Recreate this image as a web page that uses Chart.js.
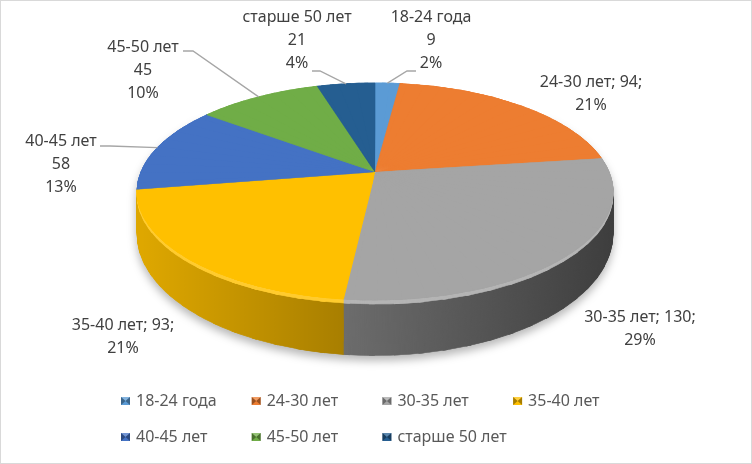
<!DOCTYPE html>
<html lang="ru">
<head>
    <meta charset="utf-8">
    <title>Возраст</title>
    <script src="https://cdn.jsdelivr.net/npm/chart.js@4"></script>
    <style>
        html, body { margin: 0; padding: 0; background: #fff; }
        #wrap { width: 752px; height: 464px; }
    </style>
</head>
<body>
    <div id="wrap"><canvas id="ageChart" width="752" height="464"></canvas></div>

    <script>
        const categories = ['18-24 года', '24-30 лет', '30-35 лет', '35-40 лет', '40-45 лет', '45-50 лет', 'старше 50 лет'];
        const counts = [9, 94, 130, 93, 58, 45, 21];
        const sliceColors = ['#5B9BD5', '#ED7D31', '#A5A5A5', '#FFC000', '#4472C4', '#70AD47', '#255E91'];

        // Excel rounds pie percentages so they add up to 100
        function percentLabels(vals) {
            const total = vals.reduce((a, b) => a + b, 0);
            const raw = vals.map(v => v / total * 100);
            const out = raw.map(Math.floor);
            const left = 100 - out.reduce((a, b) => a + b, 0);
            const order = raw.map((r, i) => i).sort((a, b) => (raw[b] - out[b]) - (raw[a] - out[a]));
            for (let k = 0; k < left; k++) out[order[k]]++;
            return out.map(p => p + '%');
        }
        const pctLabels = percentLabels(counts);

        // tilted view of the pie: disc point (u, v) at depth h (0 = top face, 1 = bottom)
        const VIEW = { cx: 375, cy: 172, R: 234, S: 105, b: 0.18, D0: 40, D1: 5.5, layers: 56 };
        function project(u, v, h) {
            const w = 1 - VIEW.b * v;
            return [VIEW.cx + VIEW.R * u / w, VIEW.cy + (VIEW.S * v + h * (VIEW.D0 + VIEW.D1 * v)) / w];
        }

        const labelFont = '16px "Noto Sans"';
        // text centre, stacked = name/value/pct on separate lines, lead = leader line start + horizontal stub
        const labelBoxes = [
            { x: 431, y: 17, stacked: true, lead: [416, 71, -9] },
            { x: 591, y: 82, stacked: false },
            { x: 640, y: 317, stacked: false },
            { x: 123, y: 325, stacked: false },
            { x: 61, y: 141, stacked: true, lead: [100, 146, 10] },
            { x: 143, y: 47, stacked: true, lead: [183, 51, 10] },
            { x: 297, y: 17, stacked: true, lead: [312, 71, 8] }
        ];

        // canvas has no perspective transform, so the pie is drawn in thin wedges,
        // each one with its own affine map that follows the projection
        const WEDGE = Math.PI / 36;
        function drawProjected(ctx, arcs, h, from, to) {
            const a0 = arcs[0];
            const k = a0.outerRadius;
            const O = project(0, 0, h);
            for (let t = from; t < to - 1e-9; t += WEDGE) {
                const t2 = Math.min(t + WEDGE, to);
                const P1 = project(Math.cos(t), Math.sin(t), h);
                const P2 = project(Math.cos(t2), Math.sin(t2), h);
                const e1x = k * Math.cos(t), e1y = k * Math.sin(t);
                const e2x = k * Math.cos(t2), e2y = k * Math.sin(t2);
                const d1x = P1[0] - O[0], d1y = P1[1] - O[1];
                const d2x = P2[0] - O[0], d2y = P2[1] - O[1];
                const det = e1x * e2y - e2x * e1y;
                const ia = e2y / det, ib = -e2x / det, ic = -e1y / det, id = e1x / det;
                const A11 = d1x * ia + d2x * ic, A12 = d1x * ib + d2x * id;
                const A21 = d1y * ia + d2y * ic, A22 = d1y * ib + d2y * id;
                ctx.save();
                ctx.transform(A11, A21, A12, A22,
                    O[0] - (A11 * a0.x + A12 * a0.y), O[1] - (A21 * a0.x + A22 * a0.y));
                ctx.beginPath();
                ctx.moveTo(a0.x, a0.y);
                ctx.arc(a0.x, a0.y, k * 1.3, t - 0.01, t2 + 0.01);
                ctx.closePath();
                ctx.clip();
                arcs.forEach(a => {
                    if (a.startAngle < t2 + 0.02 && a.endAngle > t - 0.02) a.draw(ctx);
                });
                ctx.restore();
            }
        }

        function layerCanvas(chart, arcs, hFrom, hTo, shade) {
            const r = chart.currentDevicePixelRatio;
            const off = document.createElement('canvas');
            off.width = chart.canvas.width;
            off.height = chart.canvas.height;
            const o = off.getContext('2d');
            o.setTransform(r, 0, 0, r, 0, 0);
            for (let i = Math.round(hTo * VIEW.layers); i >= Math.round(hFrom * VIEW.layers); i--) {
                drawProjected(o, arcs, i / VIEW.layers, -0.6, Math.PI + 0.6);
            }
            o.globalCompositeOperation = 'source-atop';
            o.fillStyle = shade(o);
            o.fillRect(0, 0, chart.width, chart.height);
            return off;
        }

        const pie3d = {
            id: 'pie3d',
            beforeDatasetsDraw(chart) {
                const ctx = chart.ctx;
                const arcs = chart.getDatasetMeta(0).data;
                const r = chart.currentDevicePixelRatio;

                // side wall, darker towards the right
                const side = layerCanvas(chart, arcs, 0.02, 1, o => {
                    const g = o.createLinearGradient(VIEW.cx - VIEW.R, 0, VIEW.cx + VIEW.R, 0);
                    g.addColorStop(0, 'rgba(0,0,0,0.13)');
                    g.addColorStop(1, 'rgba(0,0,0,0.62)');
                    return g;
                });
                // thin lit band just under the rim
                const bevel = layerCanvas(chart, arcs, 0.01, 0.07, () => 'rgba(255,255,255,0.18)');

                ctx.save();
                ctx.setTransform(1, 0, 0, 1, 0, 0);
                ctx.shadowColor = 'rgba(0,0,0,0.28)';
                ctx.shadowBlur = 9 * r;
                ctx.shadowOffsetY = 5 * r;
                ctx.drawImage(side, 0, 0);
                ctx.shadowColor = 'transparent';
                ctx.drawImage(bevel, 0, 0);
                ctx.restore();

                // top face, two passes with shifted wedges so the joins don't show
                drawProjected(ctx, arcs, 0, -Math.PI / 2 - WEDGE / 2, Math.PI * 1.5 + WEDGE / 2);
                drawProjected(ctx, arcs, 0, -Math.PI / 2, Math.PI * 1.5);
                return false;
            },
            afterDraw(chart) {
                const ctx = chart.ctx;
                const arcs = chart.getDatasetMeta(0).data;
                ctx.save();

                // data labels and leader lines
                ctx.font = labelFont;
                ctx.fillStyle = '#404040';
                ctx.textAlign = 'center';
                ctx.textBaseline = 'middle';
                labelBoxes.forEach((b, i) => {
                    const lines = b.stacked
                        ? [categories[i], String(counts[i]), pctLabels[i]]
                        : [categories[i] + '; ' + counts[i] + ';', pctLabels[i]];
                    lines.forEach((t, j) => ctx.fillText(t, b.x, b.y + j * 23));
                    if (b.lead) {
                        const mid = (arcs[i].startAngle + arcs[i].endAngle) / 2;
                        const [px, py] = project(Math.cos(mid), Math.sin(mid), 0);
                        ctx.beginPath();
                        ctx.moveTo(b.lead[0], b.lead[1]);
                        ctx.lineTo(b.lead[0] + b.lead[2], b.lead[1]);
                        ctx.lineTo(px, py);
                        ctx.strokeStyle = '#A6A6A6';
                        ctx.lineWidth = 1.3;
                        ctx.stroke();
                    }
                });

                // legend, Excel style: fixed columns, two rows
                ctx.textAlign = 'left';
                categories.forEach((name, i) => {
                    const x = 121 + (i % 4) * 130.7;
                    const y = 401 + Math.floor(i / 4) * 36;
                    const w = 9, h = 8, top = y - 4;
                    ctx.fillStyle = sliceColors[i];
                    ctx.fillRect(x, top, w, h);
                    ctx.fillStyle = 'rgba(255,255,255,0.25)';
                    ctx.beginPath();
                    ctx.moveTo(x, top); ctx.lineTo(x + w, top); ctx.lineTo(x + w / 2, top + h / 2); ctx.closePath();
                    ctx.fill();
                    ctx.fillStyle = 'rgba(0,0,0,0.35)';
                    ctx.beginPath();
                    ctx.moveTo(x, top); ctx.lineTo(x + w / 2, top + h / 2); ctx.lineTo(x, top + h); ctx.closePath();
                    ctx.moveTo(x + w, top); ctx.lineTo(x + w / 2, top + h / 2); ctx.lineTo(x + w, top + h); ctx.closePath();
                    ctx.fill();
                    ctx.fillStyle = '#595959';
                    ctx.fillText(name, x + 15, y);
                });

                // chart frame
                ctx.strokeStyle = '#D9D9D9';
                ctx.lineWidth = 1;
                ctx.strokeRect(0.5, 0.5, chart.width - 1, chart.height - 1);
                ctx.restore();
            }
        };

        new Chart(document.getElementById('ageChart'), {
            type: 'pie',
            data: {
                labels: categories,
                datasets: [{
                    data: counts,
                    backgroundColor: sliceColors,
                    borderColor: sliceColors,
                    borderWidth: 1
                }]
            },
            options: {
                responsive: false,
                animation: false,
                plugins: {
                    legend: { display: false },
                    tooltip: { enabled: false }
                }
            },
            plugins: [pie3d]
        });
    </script>
</body>
</html>
